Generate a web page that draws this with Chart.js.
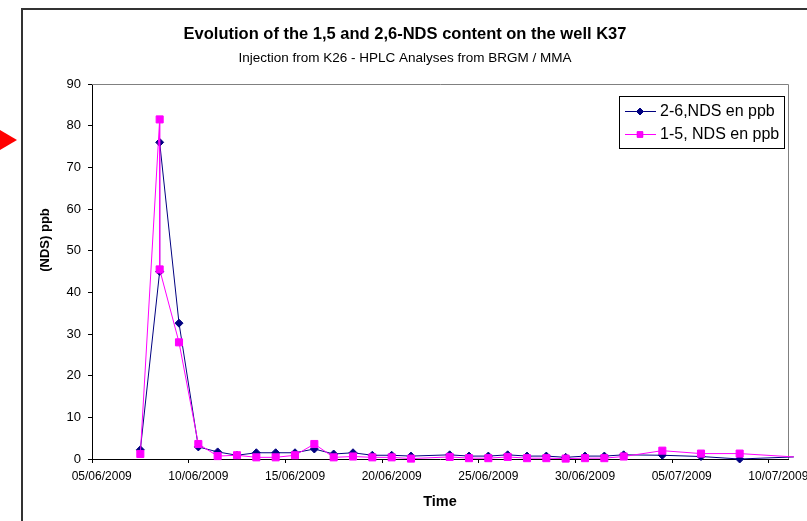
<!DOCTYPE html>
<html>
<head>
<meta charset="utf-8">
<script src="https://cdn.jsdelivr.net/npm/chart.js@4.4.0/dist/chart.umd.min.js"></script>
<style>
  html, body { margin: 0; padding: 0; background: #fff; }
  #wrap { position: relative; width: 807px; height: 521px; overflow: hidden; }
  #frame { position: absolute; left: 21px; top: 8px; width: 820px; height: 540px;
           border-left: 2px solid #333; border-top: 2px solid #333; }
  #arrow { position: absolute; left: 0; top: 130px; width: 17px; height: 20px; background: #f00;
           clip-path: polygon(0 0, 100% 50%, 0 100%); }
  canvas { position: absolute; left: 0; top: 0; }
</style>
</head>
<body>
<div id="wrap">
  <div id="frame"></div>
  <div id="arrow"></div>
  <canvas id="ndsChart" width="807" height="521"></canvas>
</div>
<script>
// days since 05/06/2009 (samples taken around noon)
const sampleDays = [2.5, 3.5, 3.5, 4.5, 5.5, 6.5, 7.5, 8.5, 9.5, 10.5, 11.5, 12.5, 13.5, 14.5, 15.5,
    16.5, 18.5, 19.5, 20.5, 21.5, 22.5, 23.5, 24.5, 25.5, 26.5, 27.5, 29.5, 31.5, 33.5, 36.3];
const nds26 = [2.2, 45, 76, 32.6, 2.9, 1.7, 0.9, 1.5, 1.5, 1.5, 2.4, 1.2, 1.5, 0.9, 0.9,
    0.7, 1.0, 0.7, 0.7, 1.0, 0.7, 0.7, 0.4, 0.7, 0.7, 1.0, 0.9, 0.6, 0, 0.5];
const nds15 = [1.2, 81.5, 45.5, 28, 3.6, 0.7, 0.9, 0.4, 0.4, 0.9, 3.6, 0.4, 0.6, 0.4, 0.4,
    0.1, 0.5, 0.2, 0.2, 0.5, 0.2, 0.2, 0.1, 0.2, 0.2, 0.6, 2.0, 1.3, 1.3, 0.5];
const tickDays = [0, 5, 10, 15, 20, 25, 30, 35];
const tickLabels = ['05/06/2009', '10/06/2009', '15/06/2009', '20/06/2009',
    '25/06/2009', '30/06/2009', '05/07/2009', '10/07/2009'];

const FONT = "'Liberation Sans', Arial, sans-serif";
Chart.defaults.font.family = FONT;
Chart.defaults.color = '#000';

const toPoints = vals => sampleDays.map((d, i) => ({ x: d, y: vals[i] }));
const lastHidden = r => ctx => ctx.dataIndex === sampleDays.length - 1 ? 0 : r;

// gray frame of the plot area (top/right), Excel style
const plotFrame = {
    id: 'plotFrame',
    beforeDatasetsDraw(chart) {
        const { ctx, chartArea: a } = chart;
        ctx.save();
        ctx.strokeStyle = '#808080';
        ctx.lineWidth = 1;
        ctx.beginPath();
        ctx.moveTo(a.left, a.top + 0.5);
        ctx.lineTo(a.right + 0.5, a.top + 0.5);
        ctx.lineTo(a.right + 0.5, a.bottom);
        ctx.stroke();
        ctx.restore();
    }
};

// y-axis title, sits a bit above the middle like in the original
const yTitle = {
    id: 'yTitle',
    afterDraw(chart) {
        const { ctx } = chart;
        ctx.save();
        ctx.translate(45, 240);
        ctx.rotate(-Math.PI / 2);
        ctx.font = 'bold 13px ' + FONT;
        ctx.fillStyle = '#000';
        ctx.textAlign = 'center';
        ctx.textBaseline = 'middle';
        ctx.fillText('(NDS) ppb', 0, 0);
        ctx.restore();
    }
};

// boxed legend in the top right corner of the plot
const boxLegend = {
    id: 'boxLegend',
    afterDraw(chart) {
        const { ctx, chartArea: a } = chart;
        const x = a.right - 169, y = a.top + 12, w = 165, h = 52;
        ctx.save();
        ctx.fillStyle = '#fff';
        ctx.fillRect(x, y, w, h);
        ctx.strokeStyle = '#000';
        ctx.lineWidth = 1;
        ctx.strokeRect(x + 0.5, y + 0.5, w, h);
        ctx.font = '16px ' + FONT;
        ctx.textBaseline = 'middle';
        chart.data.datasets.forEach((ds, i) => {
            const cy = y + 15 + i * 23;
            ctx.strokeStyle = ds.borderColor;
            ctx.beginPath();
            ctx.moveTo(x + 6, cy + 0.5);
            ctx.lineTo(x + 37, cy + 0.5);
            ctx.stroke();
            Chart.helpers.drawPoint(ctx, {
                pointStyle: ds.pointStyle, radius: i === 0 ? 3.5 : 4, borderWidth: 1, rotation: 0
            }, x + 21, cy + 0.5);
            ctx.fillStyle = ds.borderColor;
            ctx.fill();
            ctx.fillStyle = '#000';
            ctx.fillText(ds.label, x + 41, cy + 1);
        });
        ctx.restore();
    }
};

new Chart(document.getElementById('ndsChart'), {
    type: 'line',
    data: {
        datasets: [{
            label: '2-6,NDS en ppb',
            data: toPoints(nds26),
            borderColor: '#000080',
            backgroundColor: '#000080',
            borderWidth: 1,
            pointStyle: 'rectRot',
            pointRadius: lastHidden(4),
            pointBorderWidth: 1,
            tension: 0,
            order: 1,
            clip: { left: 8, top: 8, right: 6, bottom: 8 }
        }, {
            label: '1-5, NDS en ppb',
            data: toPoints(nds15),
            borderColor: '#ff00ff',
            backgroundColor: '#ff00ff',
            borderWidth: 1,
            pointStyle: 'rect',
            pointRadius: lastHidden(5),
            pointBorderWidth: 1,
            tension: 0,
            order: 0,
            clip: { left: 8, top: 8, right: 6, bottom: 8 }
        }]
    },
    options: {
        responsive: false,
        animation: false,
        layout: { padding: { left: 22, right: 19, top: 0, bottom: 0 } },
        scales: {
            x: {
                type: 'linear',
                min: 0,
                max: 36,
                afterFit: s => { s.height = 62; },
                afterBuildTicks: s => { s.ticks = tickDays.map(v => ({ value: v })); },
                ticks: {
                    font: { size: 12 },
                    padding: 6,
                    labelOffset: 9.7,
                    maxRotation: 0,
                    autoSkip: false,
                    callback: (v, i) => tickLabels[i]
                },
                grid: { drawOnChartArea: false, tickLength: 4, tickColor: '#000' },
                border: { color: '#000' },
                title: { display: true, text: 'Time', font: { size: 14.5, weight: 'bold' }, padding: { top: 0, bottom: 10 } }
            },
            y: {
                min: 0,
                max: 90,
                afterFit: s => { s.width = 70; },
                ticks: { stepSize: 10, font: { size: 13 }, padding: 7 },
                grid: { drawOnChartArea: false, tickLength: 4, tickColor: '#000' },
                border: { color: '#000' }
            }
        },
        plugins: {
            legend: { display: false },
            tooltip: { enabled: false },
            title: {
                display: true,
                text: 'Evolution of the 1,5 and 2,6-NDS content on the well K37',
                font: { size: 16.5, weight: 'bold' },
                padding: { top: 25, bottom: 5 }
            },
            subtitle: {
                display: true,
                text: 'Injection from K26 - HPLC Analyses from BRGM / MMA',
                font: { size: 13.5 },
                padding: { top: 0, bottom: 18 }
            }
        }
    },
    plugins: [plotFrame, yTitle, boxLegend]
});
</script>
</body>
</html>
